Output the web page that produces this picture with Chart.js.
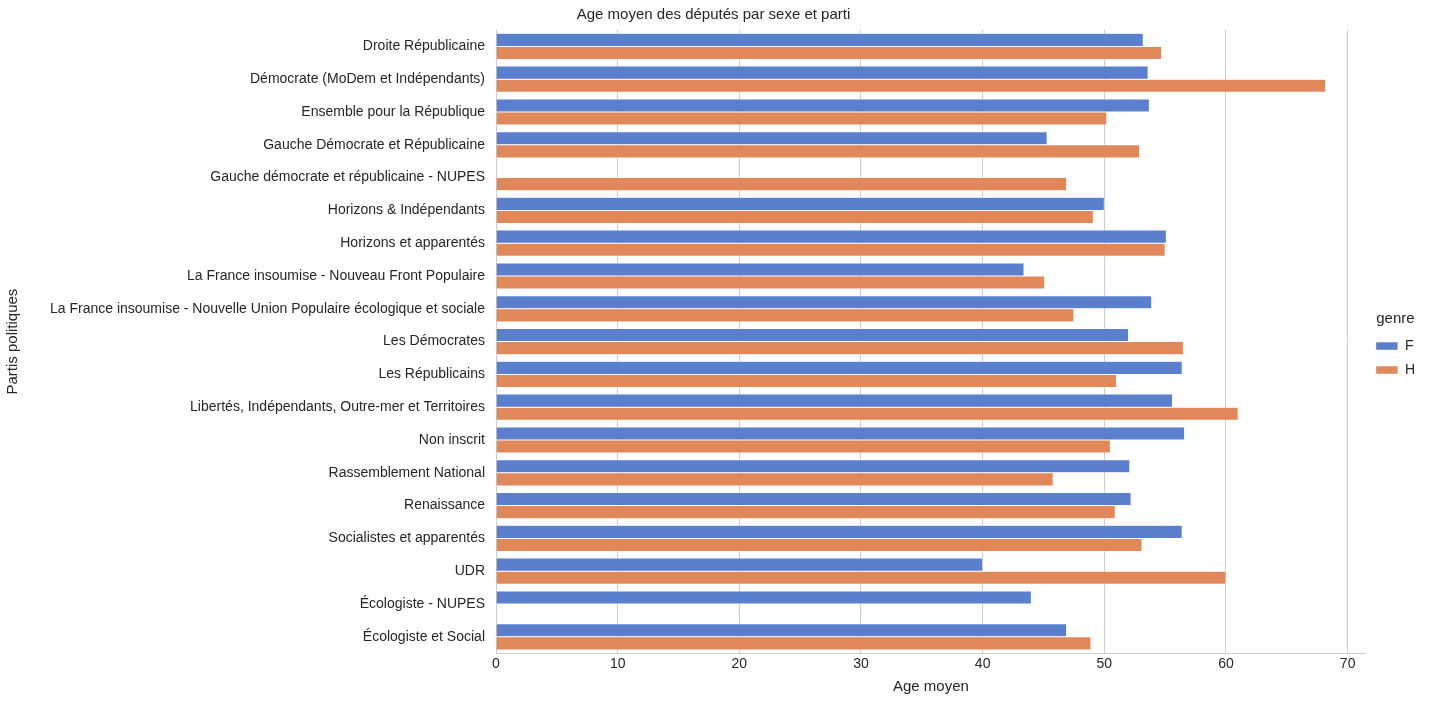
<!DOCTYPE html>
<html>
<head>
<meta charset="utf-8">
<script src="https://cdn.jsdelivr.net/npm/chart.js@4/dist/chart.umd.min.js"></script>
<style>body{margin:0;background:#fff}</style>
</head>
<body>
<canvas id="chart" width="1435" height="704"></canvas>
<script>
// partis politiques
const partis = [
  "Droite Républicaine",
  "Démocrate (MoDem et Indépendants)",
  "Ensemble pour la République",
  "Gauche Démocrate et Républicaine",
  "Gauche démocrate et républicaine - NUPES",
  "Horizons & Indépendants",
  "Horizons et apparentés",
  "La France insoumise - Nouveau Front Populaire",
  "La France insoumise - Nouvelle Union Populaire écologique et sociale",
  "Les Démocrates",
  "Les Républicains",
  "Libertés, Indépendants, Outre-mer et Territoires",
  "Non inscrit",
  "Rassemblement National",
  "Renaissance",
  "Socialistes et apparentés",
  "UDR",
  "Écologiste - NUPES",
  "Écologiste et Social",
];
const ageF = [53.2, 53.6, 53.7, 45.3, null, 50.0, 55.1, 43.4, 53.9, 52.0, 56.4, 55.6, 56.6, 52.1, 52.2, 56.4, 40.0, 44.0, 46.9];
const ageH = [54.7, 68.2, 50.2, 52.9, 46.9, 49.1, 55.0, 45.1, 47.5, 56.5, 51.0, 61.0, 50.5, 45.8, 50.9, 53.1, 60.0, null, 48.9];
const xTicks = [0, 10, 20, 30, 40, 50, 60, 70];

const txt = "#262626";
const font = { family: "Liberation Sans", size: 14 };

new Chart(document.querySelector("#chart").getContext("2d"), {
  type: "bar",
  data: {
    labels: partis,
    datasets: [
      { label: "F", data: ageF, backgroundColor: "#5a7fcc", borderColor: "#fff", borderWidth: 0.5 },
      { label: "H", data: ageH, backgroundColor: "#e0885a", borderColor: "#fff", borderWidth: 0.5 },
    ],
  },
  options: {
    responsive: false,
    animation: false,
    indexAxis: "y",
    layout: { padding: { left: 2, top: 0, right: 10, bottom: 6 } },
    datasets: { bar: { categoryPercentage: 0.8, barPercentage: 1 } },
    plugins: {
      title: { display: true, text: "Age moyen des députés par sexe et parti", color: txt, font: { family: "Liberation Sans", size: 15, weight: "normal" }, padding: { top: 6, bottom: 6 } },
      legend: {
        position: "right",
        title: { display: true, text: "genre", color: txt, font: { family: "Liberation Sans", size: 15 } },
        labels: { color: txt, font: font, boxWidth: 22, boxHeight: 8 },
      },
      tooltip: { enabled: false },
    },
    scales: {
      x: {
        min: 0, max: 71.5,
        afterBuildTicks: s => { s.ticks = xTicks.map(v => ({ value: v })); },
        ticks: { color: txt, font: font },
        grid: { color: "#cccccc", drawTicks: false },
        border: { color: "#cccccc" },
        title: { display: true, text: "Age moyen", color: txt, font: { family: "Liberation Sans", size: 15 }, padding: 2 },
      },
      y: {
        afterFit: s => { s.width = 494; },
        ticks: { color: txt, font: font, autoSkip: false },
        grid: { display: false },
        border: { color: "#cccccc" },
        title: { display: true, text: "Partis politiques", color: txt, font: { family: "Liberation Sans", size: 15 }, padding: 2 },
      },
    },
  },
});
</script>
</body>
</html>
